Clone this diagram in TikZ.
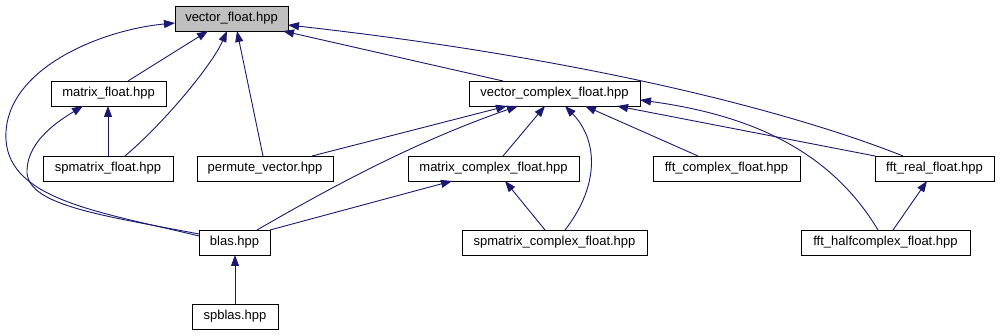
\documentclass[tikz,border=0pt]{standalone}
\usepackage{fontspec}
\setmainfont{Liberation Sans}
\usetikzlibrary{arrows.meta}
\definecolor{edgecol}{HTML}{191970}
\definecolor{rootfill}{HTML}{BFBFBF}
\begin{document}
\begin{tikzpicture}[x=1pt,y=-1pt,
  file/.style={draw=black, line width=0.9pt, rectangle, minimum height=25pt,
    inner sep=0pt, outer sep=0pt, fill=white, font=\fontsize{13}{15}\selectfont},
  rootfile/.style={file, fill=rootfill},
  dep/.style={draw=edgecol, line width=0.9pt, -{Triangle[length=11pt,width=8pt]}}]
\useasboundingbox[fill=white] (0,0) rectangle (1000,336);

\node[rootfile, minimum width=113pt] (vf) at (231.5,18.5) {vector\_float.hpp};
\node[file, minimum width=115pt] (mf) at (108.5,93.5) {matrix\_float.hpp};
\node[file, minimum width=171pt] (vcf) at (554.5,93.5) {vector\_complex\_float.hpp};
\node[file, minimum width=130pt] (spf) at (108,168.5) {spmatrix\_float.hpp};
\node[file, minimum width=136pt] (pv) at (265,168.5) {permute\_vector.hpp};
\node[file, minimum width=171pt] (mcf) at (493.5,168.5) {matrix\_complex\_float.hpp};
\node[file, minimum width=147pt] (fcf) at (726.5,168.5) {fft\_complex\_float.hpp};
\node[file, minimum width=119pt] (frf) at (934.5,168.5) {fft\_real\_float.hpp};
\node[file, minimum width=71pt] (blas) at (234.5,242.5) {blas.hpp};
\node[file, minimum width=185pt] (spcf) at (554.5,242.5) {spmatrix\_complex\_float.hpp};
\node[file, minimum width=169pt] (fhf) at (885.5,242.5) {fft\_halfcomplex\_float.hpp};
\node[file, minimum width=86pt] (spblas) at (235,316.5) {spblas.hpp};

% into vector_float
\draw[dep] ([xshift=19.5pt]mf.north) -- ([xshift=-23.5pt]vf.south);
\draw[dep] ([xshift=17pt]spf.north) .. controls (165,122) and (212,65) .. ([xshift=-4.5pt]vf.south);
\draw[dep] ([xshift=-2pt]pv.north) -- ([xshift=5.5pt]vf.south);
\draw[dep] ([yshift=6.5pt]blas.west) .. controls (100,212) and (10,200) .. (6,140)
  .. controls (2,70) and (100,30) .. ([yshift=-4.5pt]vf.west);
\draw[dep] ([xshift=-51.5pt]vcf.north) -- ([xshift=-5pt]vf.south east);
\draw[dep] ([xshift=-31.5pt]frf.north) .. controls (800,115) and (600,60) .. ([yshift=-6.5pt]vf.east);

% into matrix_float
\draw[dep] (spf.north) -- (spf.north |- mf.south);
\draw[dep] ([yshift=8.5pt]blas.west) .. controls (100,215) and (25,205) .. (27,170)
  .. controls (28,140) and (60,120) .. ([xshift=-25.5pt]mf.south);

% into vector_complex_float
\draw[dep] ([xshift=47pt]pv.north) -- ([xshift=-47.5pt]vcf.south);
\draw[dep] ([xshift=22.5pt]blas.north) .. controls (340,182) and (420,140) .. ([xshift=-36.5pt]vcf.south);
\draw[dep] ([xshift=9.5pt]mcf.north) -- ([xshift=-9.5pt]vcf.south);
\draw[dep] ([xshift=10.5pt]spcf.north) .. controls (600,185) and (598,140) .. ([xshift=10.5pt]vcf.south);
\draw[dep] ([xshift=-28.5pt]fcf.north) -- ([xshift=30.5pt]vcf.south);
\draw[dep] (frf.north west) -- ([xshift=62.5pt]vcf.south);
\draw[dep] ([xshift=-7.5pt]fhf.north) .. controls (830,150) and (750,115) .. ([yshift=-6.5pt]vcf.east);

% others
\draw[dep] (blas.north east) -- ([xshift=-41.5pt]mcf.south);
\draw[dep] ([xshift=-9.5pt]spcf.north) -- ([xshift=11.5pt]mcf.south);
\draw[dep] ([xshift=7.5pt]fhf.north) -- ([xshift=-7.5pt]frf.south);
\draw[dep] (spblas.north) -- (spblas.north |- blas.south);
\end{tikzpicture}
\end{document}
